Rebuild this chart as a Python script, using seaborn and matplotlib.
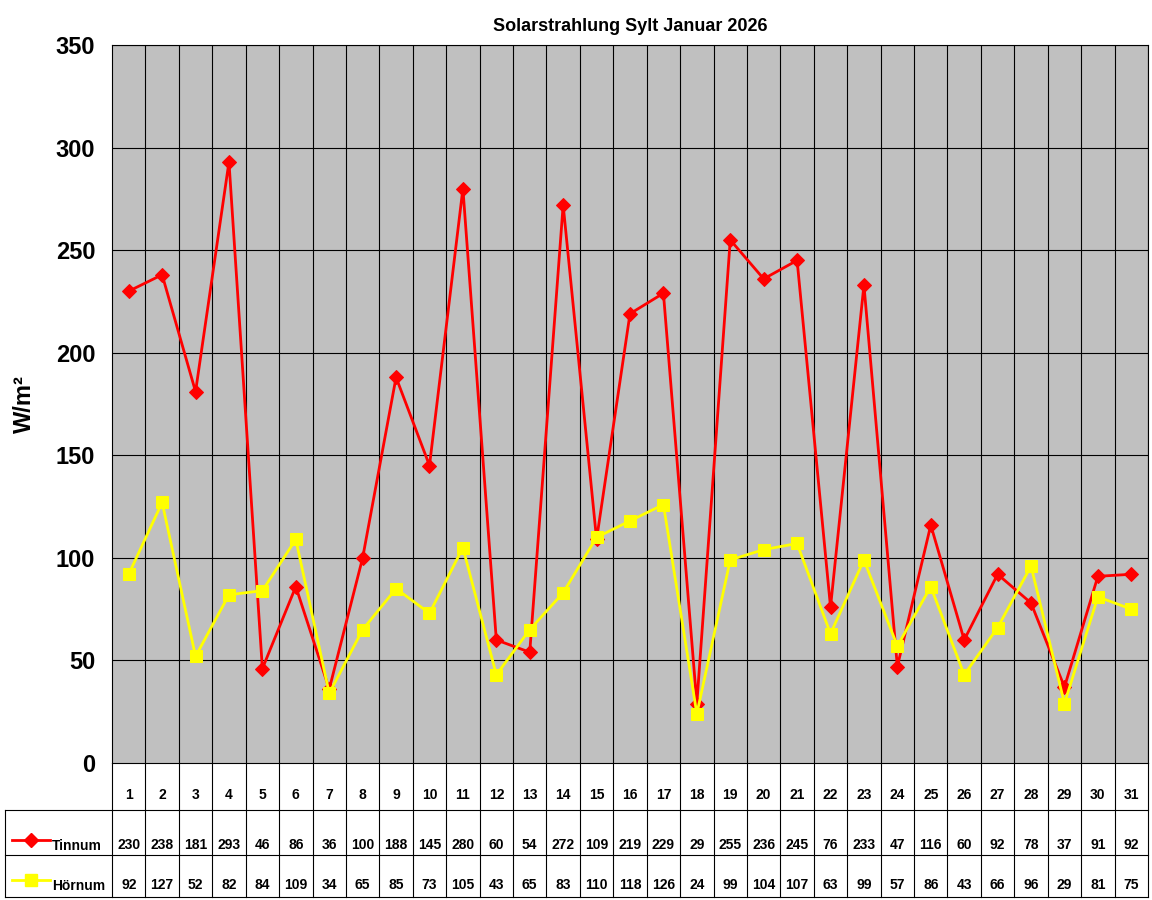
import seaborn as sns
import matplotlib.pyplot as plt
import matplotlib.transforms as mtransforms
import pandas as pd

days = list(range(1, 32))
tinnum = [230, 238, 181, 293, 46, 86, 36, 100, 188, 145, 280, 60, 54, 272, 109, 219,
          229, 29, 255, 236, 245, 76, 233, 47, 116, 60, 92, 78, 37, 91, 92]
hoernum = [92, 127, 52, 82, 84, 109, 34, 65, 85, 73, 105, 43, 65, 83, 110, 118,
           126, 24, 99, 104, 107, 63, 99, 57, 86, 43, 66, 96, 29, 81, 75]

plt.rcParams['font.family'] = ['Liberation Sans', 'DejaVu Sans']
plt.rcParams['font.weight'] = 'bold'

df = pd.DataFrame({'Tag': days, 'Tinnum': tinnum, 'Hörnum': hoernum})

fig = plt.figure(figsize=(11.52, 9), dpi=100)
ax = fig.add_axes([112/1152, 1-763/900, (1148-112)/1152, (763-45)/900])
ax.set_facecolor('#C0C0C0')

sns.lineplot(data=df, x='Tag', y='Tinnum', color='#FF0000', lw=2, marker='D',
             markersize=7, markeredgecolor='#FF0000', ax=ax, zorder=3)
sns.lineplot(data=df, x='Tag', y='Hörnum', color='#FFFF00', lw=2, marker='s',
             markersize=9, markeredgecolor='#FFFF00', ax=ax, zorder=4)

ax.set_xlim(0.5, 31.5)
ax.set_ylim(0, 350)
ax.set_yticks(range(0, 351, 50))
ax.tick_params(axis='y', labelsize=17, length=0, pad=12)
for t in ax.get_yticklabels():
    t.set_fontweight('bold')
ax.set_xticks([])
ax.set_xlabel('')
ax.set_ylabel('W/m²', fontsize=17, fontweight='bold', labelpad=14)
ax.grid(False)
for y in range(50, 351, 50):
    ax.axhline(y, color='black', lw=0.8, zorder=1)
for x in range(1, 32):
    ax.axvline(x + 0.5, color='black', lw=0.8, zorder=1)
for s in ax.spines.values():
    s.set_color('black')
    s.set_linewidth(0.8)
ax.set_title('Solarstrahlung Sylt Januar 2026', fontsize=13, fontweight='bold', pad=10)

# data table below the chart
tr = mtransforms.blended_transform_factory(ax.transData, fig.transFigure)
fy = lambda py: 1 - py / 900
for i, d in enumerate(days):
    ax.text(d, fy(795), str(d), transform=tr, ha='center', va='center', fontsize=10, fontweight='bold')
    ax.text(d, fy(845), str(tinnum[i]), transform=tr, ha='center', va='center', fontsize=10, fontweight='bold')
    ax.text(d, fy(885), str(hoernum[i]), transform=tr, ha='center', va='center', fontsize=10, fontweight='bold')
for x in range(0, 32):
    ax.plot([x + 0.5, x + 0.5], [fy(763), fy(897)], transform=tr, color='black', lw=0.8, clip_on=False)
ftr = fig.transFigure
for py in (810, 855, 897):
    fig.add_artist(plt.Line2D([5/1152, 1148/1152], [fy(py), fy(py)], transform=ftr, color='black', lw=0.8))
fig.add_artist(plt.Line2D([5/1152, 5/1152], [fy(810), fy(897)], transform=ftr, color='black', lw=0.8))
# legend keys
fig.add_artist(plt.Line2D([12/1152, 31/1152, 50/1152], [fy(840)] * 3, transform=ftr, color='#FF0000', lw=2,
                          marker='D', markersize=7, markevery=[1], markeredgecolor='#FF0000'))
fig.add_artist(plt.Line2D([12/1152, 31/1152, 50/1152], [fy(880)] * 3, transform=ftr, color='#FFFF00', lw=2,
                          marker='s', markersize=9, markevery=[1], markeredgecolor='#FFFF00'))
fig.text(52/1152, fy(846), 'Tinnum', ha='left', va='center', fontsize=10, fontweight='bold')
fig.text(52/1152, fy(886), 'Hörnum', ha='left', va='center', fontsize=10, fontweight='bold')

fig.savefig('out.png', dpi=100, facecolor='white')
